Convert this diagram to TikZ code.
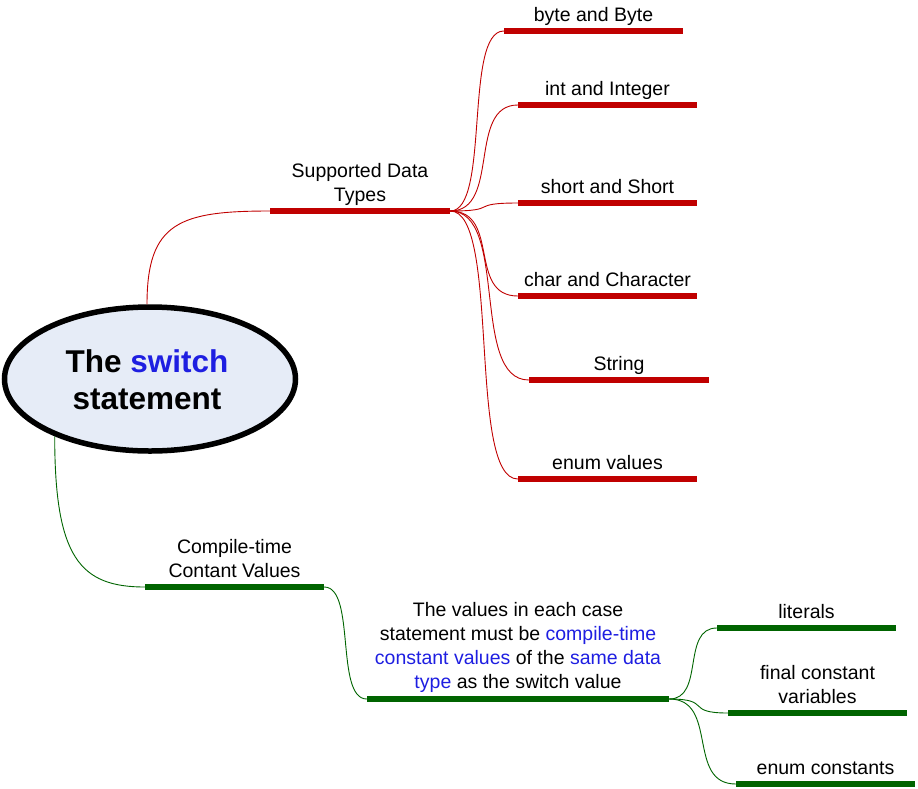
\documentclass[tikz,border=0pt]{standalone}
\usepackage{fontspec}
\setmainfont{Liberation Sans}
\usetikzlibrary{shapes.geometric,calc}
\definecolor{mmred}{RGB}{192,0,0}
\definecolor{mmgreen}{RGB}{0,100,0}
\definecolor{mmblue}{RGB}{30,30,225}
\definecolor{rootfill}{RGB}{230,236,247}
% S-shaped mind-map link: style, from node anchor, to node anchor
\newcommand\mmlink[3]{%
  \draw[#1] let \p1=(#2), \p2=(#3),
    \p3=($(#2)!0.75!(#3)$), \p4=($(#2)!0.25!(#3)$) in
    (\p1) .. controls (\x3,\y1) and (\x4,\y2) .. (\p2);}
\begin{document}
\begin{tikzpicture}[x=1pt,y=-1pt,
  redbar/.style={rectangle, fill=mmred, inner sep=0pt, minimum height=5.5pt, minimum width=179pt},
  greenbar/.style={rectangle, fill=mmgreen, inner sep=0pt, minimum height=5.5pt, minimum width=179pt},
  lbl/.style={anchor=base, inner sep=0pt, align=center, font=\fontsize{19.5}{24}\selectfont},
  redlink/.style={draw=mmred, line width=0.9pt},
  greenlink/.style={draw=mmgreen, line width=0.9pt}
]
\useasboundingbox (0,0) rectangle (918,788);

% root
\node[ellipse, draw=black, line width=5.5pt, fill=rootfill, inner sep=0pt,
      minimum width=291pt, minimum height=144pt] (root) at (150,379) {};
\node[anchor=base, inner sep=0pt, align=center,
      font=\fontsize{31.5}{37}\selectfont\bfseries] (rootT) at (147,409)
      {The \textcolor{mmblue}{switch}\\statement};

% red branch
\node[redbar, minimum width=180pt] (sdt) at (360,211) {};
\node[lbl] (sdtT) at ([yshift=7pt]sdt.north) {Supported Data\\Types};

\node[redbar] (byte)  at (593.5,31) {};
\node[redbar] (int)   at (607.5,105) {};
\node[redbar] (short) at (607.5,203) {};
\node[redbar] (char)  at (607.5,296) {};
\node[redbar, minimum width=180pt] (string) at (619,380) {};
\node[redbar] (enumv) at (607.5,479) {};

\node[lbl] (byteT)   at ([yshift=6.75pt]byte.north)   {byte and Byte};
\node[lbl] (intT)    at ([yshift=6.75pt]int.north)    {int and Integer};
\node[lbl] (shortT)  at ([yshift=6.75pt]short.north)  {short and Short};
\node[lbl] (charT)   at ([yshift=6.75pt]char.north)   {char and Character};
\node[lbl] (stringT) at ([yshift=6.75pt]string.north) {String};
\node[lbl] (enumvT)  at ([yshift=6.75pt]enumv.north)  {enum values};

\draw[redlink] ([xshift=-3pt]root.north) .. controls +(0,-82) and +(-90,0) .. (sdt.west);
\foreach \c in {byte,int,short,char,string,enumv}
  {\mmlink{redlink}{sdt.east}{\c.west}}

% green branch
\node[greenbar] (cmp) at (234.5,587) {};
\node[lbl] (cmpT) at ([yshift=7pt]cmp.north) {Compile-time\\Contant Values};

\node[greenbar, minimum width=302pt] (vals) at (518,699) {};
\node[lbl] (valsT) at ([yshift=7.25pt]vals.north)
  {The values in each case\\
   statement must be \textcolor{mmblue}{compile-time}\\
   \textcolor{mmblue}{constant values} of the \textcolor{mmblue}{same data}\\
   \textcolor{mmblue}{type} as the switch value};

\node[greenbar] (lit)   at (806.5,628) {};
\node[greenbar] (fin)   at (817.5,713) {};
\node[greenbar] (enumc) at (825.5,784) {};

\node[lbl] (litT)   at ([yshift=6.75pt]lit.north)   {literals};
\node[lbl] (finT)   at ([yshift=6.75pt]fin.north)   {final constant\\variables};
\node[lbl] (enumcT) at ([yshift=6.75pt]enumc.north) {enum constants};

\draw[greenlink] (root.211) .. controls +(0,121) and +(-65,0) .. (cmp.west);
\mmlink{greenlink}{cmp.east}{vals.west}
\foreach \c in {lit,fin,enumc}
  {\mmlink{greenlink}{vals.east}{\c.west}}
\end{tikzpicture}
\end{document}
